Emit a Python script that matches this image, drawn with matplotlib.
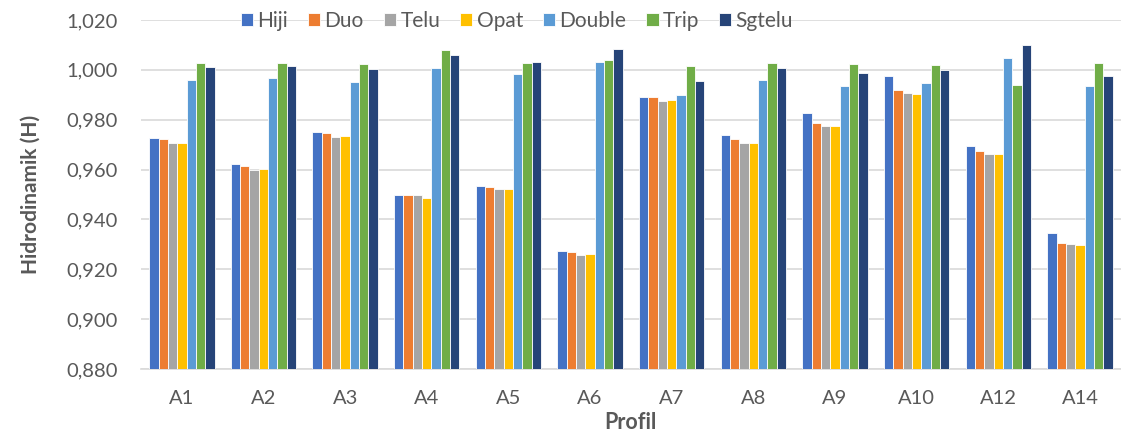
import numpy as np
import matplotlib.pyplot as plt
from matplotlib.ticker import FuncFormatter

profil = ['A1', 'A2', 'A3', 'A4', 'A5', 'A6', 'A7', 'A8', 'A9', 'A10', 'A12', 'A14']
seri = ['Hiji', 'Duo', 'Telu', 'Opat', 'Double', 'Trip', 'Sgtelu']

hiji   = [0.9728, 0.9623, 0.9751, 0.9500, 0.9536, 0.9273, 0.9891, 0.9739, 0.9825, 0.9975, 0.9693, 0.9345]
duo    = [0.9721, 0.9615, 0.9745, 0.9497, 0.9532, 0.9271, 0.9891, 0.9721, 0.9787, 0.9919, 0.9676, 0.9305]
telu   = [0.9707, 0.9600, 0.9732, 0.9497, 0.9523, 0.9259, 0.9876, 0.9707, 0.9776, 0.9907, 0.9661, 0.9303]
opat   = [0.9708, 0.9603, 0.9735, 0.9487, 0.9524, 0.9260, 0.9880, 0.9708, 0.9776, 0.9904, 0.9664, 0.9299]
double = [0.9959, 0.9967, 0.9951, 1.0008, 0.9983, 1.0033, 0.9900, 0.9959, 0.9936, 0.9948, 1.0048, 0.9937]
trip   = [1.0027, 1.0027, 1.0024, 1.0080, 1.0029, 1.0040, 1.0017, 1.0027, 1.0023, 1.0020, 0.9939, 1.0029]
sgtelu = [1.0011, 1.0017, 1.0003, 1.0061, 1.0033, 1.0084, 0.9955, 1.0009, 0.9988, 1.0000, 1.0100, 0.9977]

warna = ['#4472C4', '#ED7D31', '#A5A5A5', '#FFC000', '#5B9BD5', '#70AD47', '#264478']
data = [hiji, duo, telu, opat, double, trip, sgtelu]

plt.rcParams['font.family'] = ['Lato', 'DejaVu Sans']

fig = plt.figure(figsize=(11.21, 4.37), dpi=100)
ax = fig.add_axes([0.1258, 0.1556, 0.874, 0.7986])

x = np.arange(len(profil))
w = 0.8 / 7
for i in range(7):
    ax.bar(x - 0.4 + w * (i + 0.5), np.array(data[i]) - 0.88, w, bottom=0.88,
           color=warna[i], edgecolor='white', linewidth=0.6, label=seri[i], zorder=3)

ax.set_ylim(0.88, 1.02)
ax.set_xlim(-0.5, len(profil) - 0.5)
ax.set_yticks(np.arange(0.88, 1.0201, 0.02))
ax.yaxis.set_major_formatter(FuncFormatter(lambda v, p: f'{v:.3f}'.replace('.', ',')))
ax.set_xticks(x)
ax.set_xticklabels(profil)
ax.tick_params(axis='both', length=0, labelsize=14.5, colors='#595959')
ax.tick_params(axis='x', pad=15)
ax.tick_params(axis='y', pad=17)
ax.grid(axis='y', color='#d9d9d9', linewidth=1.2, zorder=0)
for s in ['top', 'right', 'left']:
    ax.spines[s].set_visible(False)
ax.spines['bottom'].set_color('#d9d9d9')
ax.spines['bottom'].set_linewidth(1.2)

ax.set_ylabel('Hidrodinamik (H)', fontsize=15, fontweight='bold', color='#595959', labelpad=18)
ax.set_xlabel('Profil', fontsize=15.5, fontweight='bold', color='#595959', labelpad=4)

fig.legend(loc='center', bbox_to_anchor=(517 / 1121, 1 - 21 / 437), ncol=7, frameon=False,
           fontsize=15, handlelength=0.6, handleheight=0.6, handletextpad=0.2,
           columnspacing=0.95, labelcolor='#595959')

fig.savefig('out.png', dpi=100)
